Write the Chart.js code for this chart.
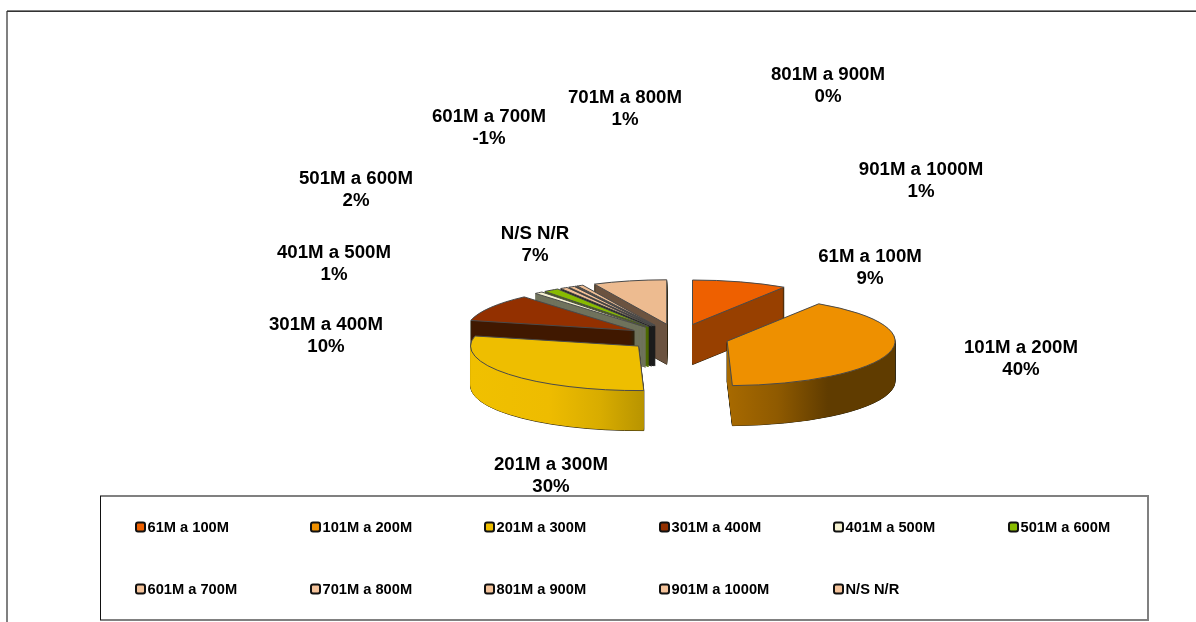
<!DOCTYPE html>
<html><head><meta charset="utf-8">
<style>html,body{margin:0;padding:0;background:#fff}#w{position:relative;width:1196px;height:622px}</style>
<script src="https://cdn.jsdelivr.net/npm/chart.js@4"></script>
</head><body><div id="w"><canvas id="c" width="1196" height="622"></canvas></div>
<script>
// data
const categories = ['61M a 100M','101M a 200M','201M a 300M','301M a 400M','401M a 500M','501M a 600M','601M a 700M','701M a 800M','801M a 900M','901M a 1000M','N/S N/R'];
const seriesValues = [9.2,40.4,29.2,10.0,0.8,1.5,-0.7,0.6,0.1,0.6,7.1];
const percentLabels = ['9%','40%','30%','10%','1%','2%','-1%','1%','0%','1%','7%'];
// styles
const topColors = ['#EE6000','#EE9000','#EEBE00','#933000','#F6F2D2','#88BB00','#EFBE94','#EFBE94','#EFBE94','#EFBE94','#EDBB90'];
const sideStops = [
 [[0,'#984000'],[1,'#984000']],
 [[0,'#a86a00'],[.3,'#8f5a00'],[.6,'#603c00'],[1,'#603c00']],
 [[0,'#f0c000'],[.45,'#eebc00'],[.75,'#d8ac00'],[1,'#b89400']],
 [[0,'#401800'],[1,'#401800']],
 [[0,'#70735d'],[1,'#70735d']],
 [[0,'#4f6c00'],[1,'#4f6c00']],
 [[0,'#1c1c1c'],[1,'#1c1c1c']],[[0,'#1c1c1c'],[1,'#1c1c1c']],[[0,'#1c1c1c'],[1,'#1c1c1c']],[[0,'#1c1c1c'],[1,'#1c1c1c']],
 [[0,'#6b5340'],[1,'#6b5340']]];
const legendSwatch = ['#EE6000','#EE9000','#EEBE00','#933000','#F6F2D2','#88BB00','#F5C49C','#F5C49C','#F5C49C','#F5C49C','#F5C49C'];
const drawOrder = [10,0,9,8,7,6,5,4,3,2,1];
const thinSlices = [4,5,6,7,8,9];
// layout
const labelAnchors = [[870,257],[1021,348],[551,465],[326,325],[334,253],[356,179],[489,117],[625,98],[828,75],[921,170],[535,234]];
const legendCols = [136,311,485,660,834,1009], legendRows = [527,589];
const squash = 0.265, depth = 40, explode = 51;
const FONT = '"Liberation Sans", Arial, sans-serif';

const pie3d = {
 id:'pie3d',
 beforeDraw(chart){
  const c = chart.ctx;
  c.save();
  c.fillStyle='#fff'; c.fillRect(0,0,chart.width,chart.height);
  // outer frame: dark top, heavier grey left
  c.fillStyle='#808080';
  c.fillRect(6,11,2,611);
  c.fillRect(7,10,1189,2);
  c.fillStyle='#333';
  c.fillRect(7,11,1189,1);
  // legend frame
  c.fillStyle='#808080';
  c.fillRect(100,495,1049,2);
  c.fillRect(1147,495,2,126);
  c.fillRect(100,619,1049,2);
  c.fillStyle='#111';
  c.fillRect(100,496,1,124);
  c.restore();
 },
 beforeDatasetsDraw(chart){
  const c = chart.ctx, meta = chart.getDatasetMeta(0);
  const nativeStroke = c.stroke;
  c.stroke = function(){ c.save(); c.setTransform(1,0,0,1,0,0); nativeStroke.call(c); c.restore(); };
  drawOrder.forEach(i=>{
   const arc = meta.data[i], o = arc.options;
   if(!arc.circumference) return;
   const mid = (arc.startAngle+arc.endAngle)/2;
   const dx = Math.cos(mid)*explode, dy = Math.sin(mid)*explode;
   const at = (z,fn)=>{
    c.save();
    c.translate(arc.x, arc.y+z);
    c.scale(1,squash);
    c.translate(dx-arc.x, dy-arc.y);
    fn();
    c.restore();
   };
   let lo=0, hi=0;
   for(let k=0;k<=40;k++){ const v=Math.cos(arc.startAngle+(arc.endAngle-arc.startAngle)*k/40)*arc.outerRadius; lo=Math.min(lo,v); hi=Math.max(hi,v); }
   const grad = c.createLinearGradient(arc.x+lo,0,arc.x+hi,0);
   sideStops[i].forEach(s=>grad.addColorStop(s[0],s[1]));
   const withOpts = (over,fn)=>{ arc.options = Object.assign({},o,over); fn(); arc.options = o; };
   const thin = thinSlices.includes(i);
   withOpts(thin
     ? {backgroundColor:sideStops[i][0][1],borderColor:sideStops[i][0][1],borderWidth:1}
     : {backgroundColor:'#2b2410',borderColor:'#2b2410',borderWidth:1},()=>{
    for(let z=depth;z>0;z-=1) at(z,()=>arc.draw(c));
   });
   if(!thin) withOpts({backgroundColor:grad,borderWidth:0},()=>{
    for(let z=depth;z>0;z-=1) at(z,()=>arc.draw(c));
   });
   at(0,()=>arc.draw(c));
  });
  delete c.stroke;
  return false;
 },
 afterDraw(chart){
  const c = chart.ctx, labels = chart.data.labels;
  c.save();
  c.fillStyle='#000'; c.textBaseline='middle';
  c.textAlign='center'; c.font='bold 18.67px '+FONT;
  labels.forEach((l,i)=>{
   const [x,y]=labelAnchors[i];
   c.fillText(l,x,y); c.fillText(percentLabels[i],x,y+22);
  });
  c.textAlign='left'; c.font='bold 14.67px '+FONT;
  labels.forEach((l,i)=>{
   const x=legendCols[i%6], y=legendRows[Math.floor(i/6)];
   c.beginPath(); c.roundRect(x,y-4.5,9,9,2);
   c.fillStyle=legendSwatch[i]; c.fill();
   c.strokeStyle='#111'; c.lineWidth=2; c.stroke();
   c.fillStyle='#000'; c.fillText(l,x+11.5,y+0.5);
  });
  c.restore();
 }
};

new Chart(document.getElementById('c'),{
 type:'pie',
 data:{labels:categories,datasets:[{data:seriesValues,backgroundColor:topColors,borderColor:'#4a4a4a',borderWidth:1,radius:168,clip:false}]},
 options:{
  responsive:false,animation:false,
  layout:{padding:{left:160,top:53}},
  plugins:{legend:{display:false},tooltip:{enabled:false},title:{display:false}}
 },
 plugins:[pie3d]
});
</script></body></html>
